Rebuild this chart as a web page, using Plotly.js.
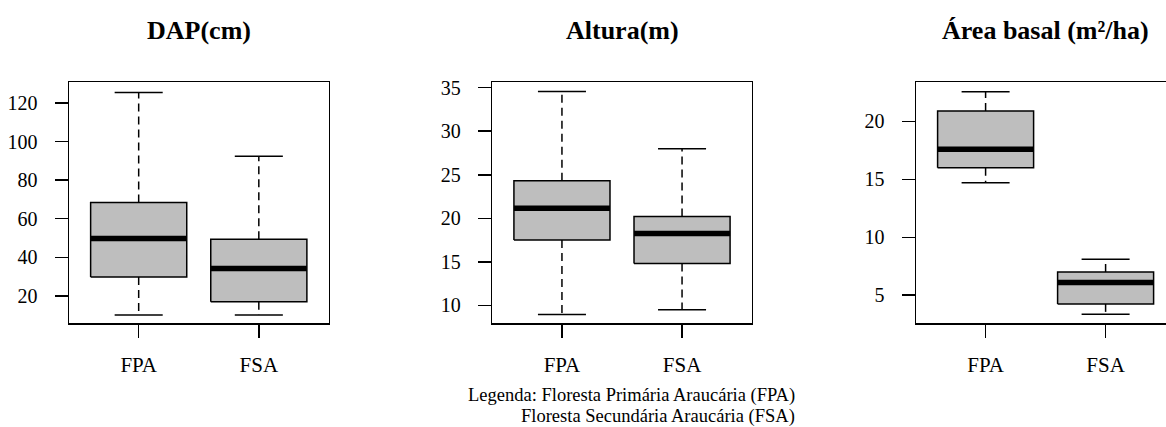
<!DOCTYPE html>
<html>
<head>
<meta charset="utf-8">
<script src="https://cdn.plot.ly/plotly-3.0.1.min.js"></script>
<style>
  html, body { margin: 0; padding: 0; background: #ffffff; }
  #chart { width: 1166px; height: 427px; }
</style>
</head>
<body>
<div id="chart"></div>
<script>
// ---- Data ----
var categories = ['FPA', 'FSA'];
var panelTitles = ['DAP(cm)', 'Altura(m)', 'Área basal (m²/ha)'];

// DAP (cm)
var dapMin = [10.0, 10.0];
var dapQ1  = [29.8, 16.9];
var dapMed = [49.7, 34.2];
var dapQ3  = [68.4, 49.4];
var dapMax = [125.4, 92.4];

// Altura (m)
var altMin = [8.97, 9.5];
var altQ1  = [17.5, 14.8];
var altMed = [21.15, 18.25];
var altQ3  = [24.3, 20.2];
var altMax = [34.55, 28.0];

// Área basal (m²/ha)
var abMin = [14.7, 3.35];
var abQ1  = [16.0, 4.25];
var abMed = [17.6, 6.1];
var abQ3  = [20.9, 7.0];
var abMax = [22.55, 8.1];

var dapTicks = [20, 40, 60, 80, 100, 120];
var altTicks = [10, 15, 20, 25, 30, 35];
var abTicks  = [5, 10, 15, 20];

var legendLines = ['Legenda: Floresta Primária Araucária (FPA)',
                   'Floresta Secundária Araucária (FSA)'];

// ---- Build ----
var W = 1166, H = 427;
var FONT = "'Liberation Serif', 'DejaVu Serif', serif";
var BOXFILL = '#bebebe';
var HALF = 0.4, CAP = 0.2;

var panels = [
  {mn: dapMin, q1: dapQ1, md: dapMed, q3: dapQ3, mx: dapMax, ticks: dapTicks, yr: [5.9, 130.9]},
  {mn: altMin, q1: altQ1, md: altMed, q3: altQ3, mx: altMax, ticks: altTicks, yr: [7.98, 35.65]},
  {mn: abMin,  q1: abQ1,  md: abMed,  q3: abQ3,  mx: abMax,  ticks: abTicks,  yr: [2.6, 23.4]}
];
var xDomains = [[69 / W, 328.5 / W], [492.3 / W, 751.7 / W], [916 / W, 1]];
var xRanges = [[0.42, 2.58], [0.42, 2.58], [0.42, 0.42 + (W - 916) / 120]];
var yDomain = [1 - 323 / H, 1 - 82 / H];

var traces = [];
var layout = {
  width: W, height: H,
  margin: {l: 0, r: 0, t: 0, b: 0},
  paper_bgcolor: '#ffffff', plot_bgcolor: '#ffffff',
  showlegend: false,
  font: {family: FONT, color: '#000000', size: 20},
  annotations: []
};

panels.forEach(function (p, k) {
  var xa = 'x' + (k === 0 ? '' : k + 1);
  var ya = 'y' + (k === 0 ? '' : k + 1);
  var xname = 'xaxis' + (k === 0 ? '' : k + 1);
  var yname = 'yaxis' + (k === 0 ? '' : k + 1);
  var pos = categories.map(function (c, i) { return i + 1; });

  categories.forEach(function (c, i) {
    var x = pos[i];
    // whiskers (dashed)
    traces.push({
      type: 'scatter', mode: 'lines', xaxis: xa, yaxis: ya, hoverinfo: 'skip',
      x: [x, x, null, x, x], y: [p.q3[i], p.mx[i], null, p.q1[i], p.mn[i]],
      line: {color: '#000000', width: 1.5, dash: '8px,5px'}
    });
    // caps
    traces.push({
      type: 'scatter', mode: 'lines', xaxis: xa, yaxis: ya, hoverinfo: 'skip',
      x: [x - CAP, x + CAP, null, x - CAP, x + CAP], y: [p.mx[i], p.mx[i], null, p.mn[i], p.mn[i]],
      line: {color: '#000000', width: 1.5}
    });
    // box
    traces.push({
      type: 'scatter', mode: 'lines', xaxis: xa, yaxis: ya, hoverinfo: 'skip',
      x: [x - HALF, x + HALF, x + HALF, x - HALF, x - HALF],
      y: [p.q1[i], p.q1[i], p.q3[i], p.q3[i], p.q1[i]],
      fill: 'toself', fillcolor: BOXFILL,
      line: {color: '#000000', width: 1.5}
    });
    // median
    traces.push({
      type: 'scatter', mode: 'lines', xaxis: xa, yaxis: ya, hoverinfo: 'skip',
      x: [x - HALF, x + HALF], y: [p.md[i], p.md[i]],
      line: {color: '#000000', width: 5.5}
    });
  });

  layout[xname] = {
    domain: xDomains[k], range: xRanges[k], anchor: ya,
    tickmode: 'array', tickvals: pos, ticktext: categories,
    showline: true, mirror: true, linecolor: '#000000', linewidth: 1.5,
    ticks: 'outside', ticklen: 13, tickwidth: 1.5, tickcolor: '#000000',
    ticklabelstandoff: 9,
    tickfont: {family: FONT, size: 21, color: '#000000'},
    showgrid: false, zeroline: false, fixedrange: true
  };
  layout[yname] = {
    domain: yDomain, range: p.yr, anchor: xa,
    tickmode: 'array', tickvals: p.ticks, ticktext: p.ticks.map(String),
    showline: true, mirror: k < 2, linecolor: '#000000', linewidth: 1.5,
    ticks: 'outside', ticklen: 13, tickwidth: 1.5, tickcolor: '#000000',
    ticklabelstandoff: 13,
    tickfont: {family: FONT, size: 20, color: '#000000'},
    showgrid: false, zeroline: false, fixedrange: true
  };

  var dom = xDomains[k];
  var center = k < 2 ? (dom[0] + dom[1]) / 2 : (916 + 1175) / 2 / W;
  layout.annotations.push({
    xref: 'paper', yref: 'paper', x: center, y: 1 - 31 / H,
    xanchor: 'center', yanchor: 'middle', showarrow: false,
    text: '<b>' + panelTitles[k] + '</b>',
    font: {family: FONT, size: 26, color: '#000000'}
  });
});

legendLines.forEach(function (t, i) {
  layout.annotations.push({
    xref: 'paper', yref: 'paper', x: 797 / W, y: 1 - (395 + 21 * i) / H,
    xanchor: 'right', yanchor: 'middle', showarrow: false,
    text: t, font: {family: FONT, size: 18.5, color: '#000000'}
  });
});

Plotly.newPlot('chart', traces, layout, {staticPlot: true, displayModeBar: false});
</script>
</body>
</html>
